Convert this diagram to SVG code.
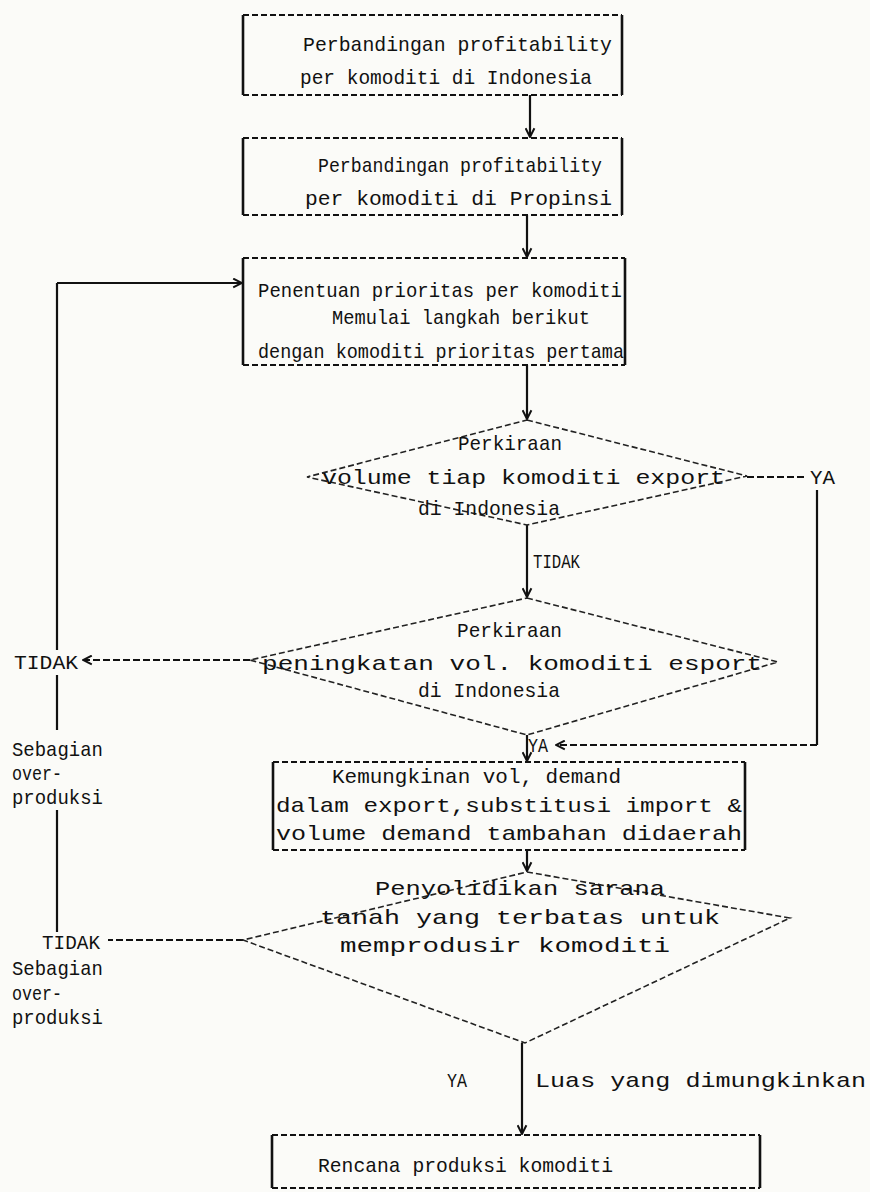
<svg xmlns="http://www.w3.org/2000/svg" width="870" height="1192" viewBox="0 0 870 1192">
<style>
  .bg { fill:#fbfbf8; }
  .bh { stroke:#111; stroke-width:2; stroke-dasharray:6 3; fill:none; }
  .bv { stroke:#111; stroke-width:2.6; fill:none; }
  .dia { fill:none; stroke:#222; stroke-width:1.6; stroke-dasharray:6 3; }
  .ln { stroke:#111; stroke-width:2.2; fill:none; }
  .dl { stroke:#111; stroke-width:1.8; fill:none; stroke-dasharray:7 3; }
  text { font-family:"Liberation Mono","Courier New",monospace; font-size:21px; fill:#111; }
</style>
<defs>
  <marker id="ah" viewBox="0 0 10 10" refX="9" refY="5" markerWidth="11" markerHeight="11" markerUnits="userSpaceOnUse" orient="auto">
    <path d="M1,1 L9,5 L1,9" fill="none" stroke="#111" stroke-width="1.8"/>
  </marker>
</defs>
<rect class="bg" x="0" y="0" width="870" height="1192"/>

<g id="connectors">
  <line class="ln" x1="530" y1="95" x2="530" y2="137" marker-end="url(#ah)"/>
  <line class="ln" x1="527" y1="215" x2="527" y2="257" marker-end="url(#ah)"/>
  <line class="ln" x1="527" y1="365" x2="527" y2="419" marker-end="url(#ah)"/>
  <line class="ln" x1="527" y1="525" x2="527" y2="597" marker-end="url(#ah)"/>
  <line class="ln" x1="527" y1="735" x2="527" y2="761" marker-end="url(#ah)"/>
  <line class="ln" x1="527" y1="850" x2="527" y2="871" marker-end="url(#ah)"/>
  <line class="ln" x1="522" y1="1043" x2="522" y2="1134" marker-end="url(#ah)"/>
  <line class="dl" x1="747" y1="477" x2="806" y2="477"/>
  <line class="ln" x1="817" y1="490" x2="817" y2="745"/>
  <line class="dl" x1="817" y1="745" x2="556" y2="745" marker-end="url(#ah)"/>
  <line class="dl" x1="250" y1="660" x2="83" y2="660" marker-end="url(#ah)"/>
  <line class="dl" x1="243" y1="940" x2="108" y2="940"/>
  <line class="ln" x1="57" y1="650" x2="57" y2="283"/>
  <line class="ln" x1="57" y1="283" x2="242" y2="283" marker-end="url(#ah)"/>
  <line class="ln" x1="57" y1="675" x2="57" y2="730"/>
  <line class="ln" x1="57" y1="810" x2="57" y2="932"/>
</g>

<g id="box1">
  <line class="bh" x1="243" y1="15" x2="622" y2="15"/>
  <line class="bh" x1="243" y1="95" x2="622" y2="95"/>
  <line class="bv" x1="243" y1="15" x2="243" y2="95"/>
  <line class="bv" x1="622" y1="15" x2="622" y2="95"/>
  <text x="303" y="51" textLength="309" lengthAdjust="spacingAndGlyphs">Perbandingan profitability</text>
  <text x="300" y="84" textLength="292" lengthAdjust="spacingAndGlyphs">per komoditi di  Indonesia</text>
</g>

<g id="box2">
  <line class="bh" x1="243" y1="138" x2="622" y2="138"/>
  <line class="bh" x1="243" y1="215" x2="622" y2="215"/>
  <line class="bv" x1="243" y1="138" x2="243" y2="215"/>
  <line class="bv" x1="622" y1="138" x2="622" y2="215"/>
  <text x="318" y="172" textLength="284" lengthAdjust="spacingAndGlyphs">Perbandingan profitability</text>
  <text x="305" y="205" textLength="307" lengthAdjust="spacingAndGlyphs">per  komoditi  di Propinsi</text>
</g>

<g id="box3">
  <line class="bh" x1="243" y1="258" x2="625" y2="258"/>
  <line class="bh" x1="243" y1="365" x2="625" y2="365"/>
  <line class="bv" x1="243" y1="258" x2="243" y2="365"/>
  <line class="bv" x1="625" y1="258" x2="625" y2="365"/>
  <text x="258" y="297" textLength="364" lengthAdjust="spacingAndGlyphs">Penentuan prioritas per komoditi</text>
  <text x="332" y="324" textLength="258" lengthAdjust="spacingAndGlyphs">Memulai langkah berikut</text>
  <text x="258" y="358" textLength="366" lengthAdjust="spacingAndGlyphs">dengan komoditi prioritas pertama</text>
</g>

<g id="decision1">
  <polygon class="dia" points="527,420 747,476 527,525 307,477"/>
  <text x="458" y="450" textLength="104" lengthAdjust="spacingAndGlyphs">Perkiraan</text>
  <text x="322" y="484" textLength="403" lengthAdjust="spacingAndGlyphs">volume tiap komoditi export</text>
  <text x="418" y="515" textLength="142" lengthAdjust="spacingAndGlyphs">di Indonesia</text>
</g>

<g id="label-ya1"><text x="810" y="484" textLength="25" lengthAdjust="spacingAndGlyphs">YA</text></g>
<g id="label-tidak1"><text x="533" y="568" textLength="47" lengthAdjust="spacingAndGlyphs">TIDAK</text></g>

<g id="decision2">
  <polygon class="dia" points="527,598 778,662 527,735 250,660"/>
  <text x="457" y="637" textLength="105" lengthAdjust="spacingAndGlyphs">Perkiraan</text>
  <text x="262" y="670" textLength="500" lengthAdjust="spacingAndGlyphs">peningkatan vol. komoditi esport</text>
  <text x="418" y="697" textLength="142" lengthAdjust="spacingAndGlyphs">di Indonesia</text>
</g>

<g id="label-ya2"><text x="528" y="752" textLength="20" lengthAdjust="spacingAndGlyphs">YA</text></g>
<g id="label-tidak2"><text x="14" y="669" textLength="64" lengthAdjust="spacingAndGlyphs">TIDAK</text></g>
<g id="label-over1">
  <text x="12" y="756" textLength="91" lengthAdjust="spacingAndGlyphs">Sebagian</text>
  <text x="12" y="780" textLength="50" lengthAdjust="spacingAndGlyphs">over-</text>
  <text x="12" y="804" textLength="91" lengthAdjust="spacingAndGlyphs">produksi</text>
</g>

<g id="box4">
  <line class="bh" x1="273" y1="762" x2="745" y2="762"/>
  <line class="bh" x1="273" y1="850" x2="745" y2="850"/>
  <line class="bv" x1="273" y1="762" x2="273" y2="850"/>
  <line class="bv" x1="745" y1="762" x2="745" y2="850"/>
  <text x="332" y="783" textLength="289" lengthAdjust="spacingAndGlyphs">Kemungkinan vol, demand</text>
  <text x="276" y="812" textLength="466" lengthAdjust="spacingAndGlyphs">dalam export,substitusi import &amp;</text>
  <text x="276" y="840" textLength="466" lengthAdjust="spacingAndGlyphs">volume demand tambahan didaerah</text>
</g>

<g id="decision3">
  <polygon class="dia" points="527,872 790,918 525,1043 243,940"/>
  <text x="375" y="895" textLength="290" lengthAdjust="spacingAndGlyphs">Penyolidikan sarana</text>
  <text x="320" y="924" textLength="400" lengthAdjust="spacingAndGlyphs">tanah yang terbatas untuk</text>
  <text x="340" y="952" textLength="330" lengthAdjust="spacingAndGlyphs">memprodusir komoditi</text>
</g>

<g id="label-tidak3"><text x="42" y="949" textLength="58" lengthAdjust="spacingAndGlyphs">TIDAK</text></g>
<g id="label-over2">
  <text x="12" y="975" textLength="91" lengthAdjust="spacingAndGlyphs">Sebagian</text>
  <text x="12" y="1000" textLength="50" lengthAdjust="spacingAndGlyphs">over-</text>
  <text x="12" y="1024" textLength="91" lengthAdjust="spacingAndGlyphs">produksi</text>
</g>
<g id="label-ya3"><text x="447" y="1087" textLength="20" lengthAdjust="spacingAndGlyphs">YA</text></g>
<g id="label-luas"><text x="535" y="1087" textLength="331" lengthAdjust="spacingAndGlyphs">Luas yang dimungkinkan</text></g>

<g id="box5">
  <line class="bh" x1="272" y1="1135" x2="760" y2="1135"/>
  <line class="bh" x1="272" y1="1188" x2="760" y2="1188"/>
  <line class="bv" x1="272" y1="1135" x2="272" y2="1188"/>
  <line class="bv" x1="760" y1="1135" x2="760" y2="1188"/>
  <text x="318" y="1172" textLength="295" lengthAdjust="spacingAndGlyphs">Rencana produksi komoditi</text>
</g>
</svg>
